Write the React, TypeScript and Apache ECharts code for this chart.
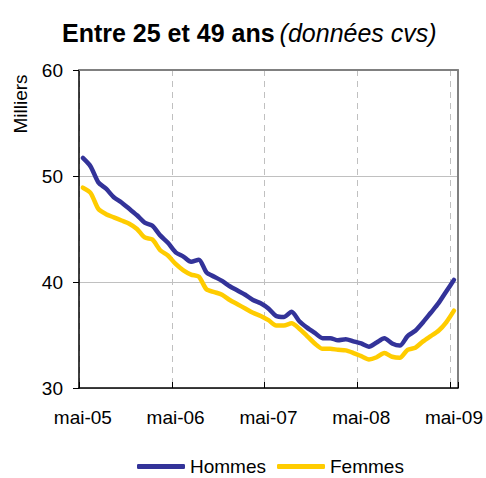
import React, { useEffect, useRef } from "react";
import * as echarts from "echarts";

const months: string[] = [
  "mai-05", "juin-05", "juil-05", "août-05", "sept-05", "oct-05", "nov-05", "déc-05",
  "janv-06", "févr-06", "mars-06", "avr-06", "mai-06", "juin-06", "juil-06", "août-06",
  "sept-06", "oct-06", "nov-06", "déc-06", "janv-07", "févr-07", "mars-07", "avr-07",
  "mai-07", "juin-07", "juil-07", "août-07", "sept-07", "oct-07", "nov-07", "déc-07",
  "janv-08", "févr-08", "mars-08", "avr-08", "mai-08", "juin-08", "juil-08", "août-08",
  "sept-08", "oct-08", "nov-08", "déc-08", "janv-09", "févr-09", "mars-09", "avr-09",
  "mai-09",
];

const hommes: number[] = [
  51.7, 50.9, 49.4, 48.8, 48.0, 47.5, 46.9, 46.3, 45.6, 45.3, 44.4, 43.7, 42.8,
  42.4, 41.9, 42.1, 40.9, 40.5, 40.1, 39.6, 39.2, 38.8, 38.3, 38.0, 37.5,
  36.8, 36.7, 37.2, 36.3, 35.7, 35.2, 34.7, 34.7, 34.5, 34.6, 34.4, 34.2,
  33.9, 34.3, 34.7, 34.2, 34.0, 34.9, 35.4, 36.2, 37.1, 38.0, 39.1, 40.2,
];

const femmes: number[] = [
  48.9, 48.4, 46.9, 46.4, 46.1, 45.8, 45.5, 45.0, 44.2, 44.0, 43.0, 42.5, 41.7,
  41.1, 40.7, 40.5, 39.3, 39.05, 38.8, 38.3, 37.9, 37.5, 37.1, 36.8, 36.4,
  35.9, 35.9, 36.1, 35.6, 34.9, 34.2, 33.7, 33.7, 33.6, 33.55, 33.3, 33.0,
  32.7, 32.9, 33.3, 32.95, 32.85, 33.6, 33.8, 34.4, 34.9, 35.4, 36.2, 37.3,
];

const FONT = "'Liberation Sans', Arial, sans-serif";

export default function App() {
  const ref = useRef<HTMLDivElement>(null);
  useEffect(() => {
    if (!ref.current) return;
    const chart = echarts.init(ref.current, undefined, { renderer: "svg" });
    chart.setOption({
      animation: false,
      backgroundColor: "#ffffff",
      textStyle: { fontFamily: FONT },
      title: {
        text: "{b|Entre 25 et 49 ans} {i|(données cvs)}",
        left: 57,
        top: 15,
        textStyle: {
          fontWeight: "normal",
          rich: {
            b: { fontFamily: FONT, fontWeight: "bold", fontSize: 25, color: "#000" },
            i: { fontFamily: FONT, fontStyle: "italic", fontWeight: "normal", fontSize: 25, color: "#000" },
          },
        },
      },
      graphic: [
        {
          type: "text",
          x: 20,
          y: 104,
          rotation: Math.PI / 2,
          style: {
            text: "Milliers",
            fontFamily: FONT,
            fontSize: 19,
            fill: "#000",
            align: "center",
            verticalAlign: "middle",
          },
        },
      ],
      legend: {
        left: 137,
        top: 457,
        padding: 0,
        itemWidth: 48,
        itemHeight: 5,
        itemGap: 11,
        icon: "roundRect",
        textStyle: { fontFamily: FONT, fontSize: 19, color: "#000" },
        data: ["Hommes", "Femmes"],
      },
      grid: { left: 79, top: 70, right: 28, bottom: 90, containLabel: false },
      xAxis: [
        {
          type: "category",
          data: months,
          boundaryGap: true,
          axisLine: { show: true, lineStyle: { color: "#000", width: 1.5 } },
          axisTick: { show: true, inside: true, length: 6, interval: 11, lineStyle: { color: "#000", width: 1 } },
          axisLabel: { interval: 11, margin: 20, fontFamily: FONT, fontSize: 19, color: "#000" },
          splitLine: { show: true, interval: 11, lineStyle: { color: "#c0c0c0", type: [6, 5], width: 1 } },
        },
        {
          type: "category",
          data: months,
          position: "top",
          boundaryGap: true,
          axisLine: { show: true, lineStyle: { color: "#808080", width: 2 } },
          axisTick: { show: false },
          axisLabel: { show: false },
          splitLine: { show: false },
        },
      ],
      yAxis: [
        {
          type: "value",
          min: 30,
          max: 60,
          interval: 10,
          axisLine: { show: true, lineStyle: { color: "#000", width: 1.5 } },
          axisTick: { show: true, length: 6, lineStyle: { color: "#000", width: 1 } },
          axisLabel: { margin: 16, fontFamily: FONT, fontSize: 19, color: "#000" },
          splitLine: { show: true, lineStyle: { color: "#c0c0c0", width: 1 } },
        },
        {
          type: "value",
          min: 30,
          max: 60,
          interval: 10,
          position: "right",
          axisLine: { show: true, lineStyle: { color: "#808080", width: 2 } },
          axisTick: { show: false },
          axisLabel: { show: false },
          splitLine: { show: false },
        },
      ],
      series: [
        {
          name: "Hommes",
          type: "line",
          data: hommes,
          smooth: 0.25,
          showSymbol: false,
          symbol: "none",
          itemStyle: { color: "#333399" },
          lineStyle: { color: "#333399", width: 4.5, join: "round", cap: "round" },
        },
        {
          name: "Femmes",
          type: "line",
          data: femmes,
          smooth: 0.25,
          showSymbol: false,
          symbol: "none",
          itemStyle: { color: "#FFCC00" },
          lineStyle: { color: "#FFCC00", width: 4.5, join: "round", cap: "round" },
        },
      ],
    });
    return () => chart.dispose();
  }, []);
  return (
    <div
      ref={ref}
      style={{ position: "fixed", left: 0, top: 0, width: 486, height: 478 }}
    />
  );
}
